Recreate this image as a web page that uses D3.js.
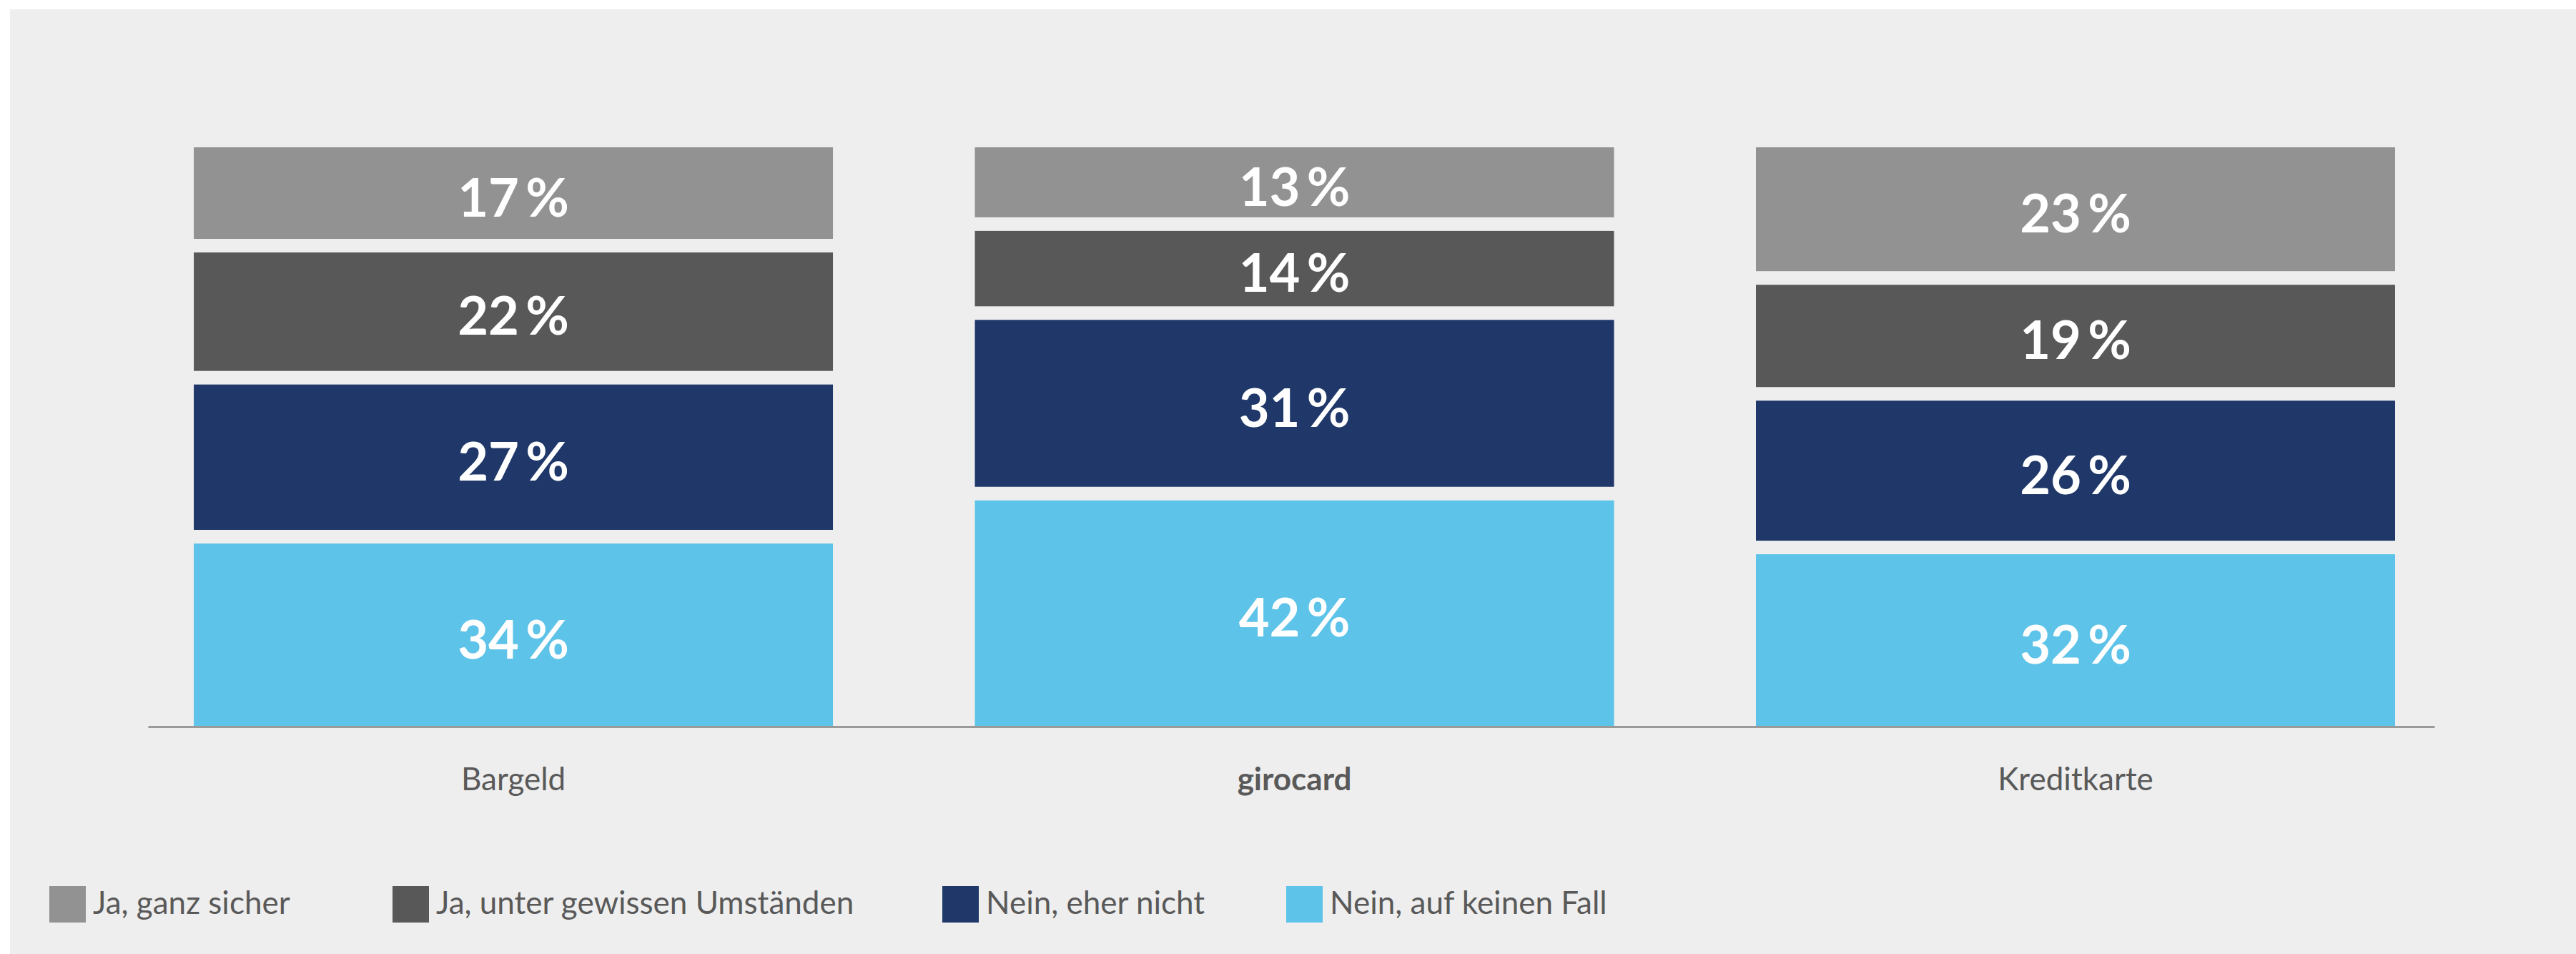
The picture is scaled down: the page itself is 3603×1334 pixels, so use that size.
<!DOCTYPE html>
<html>
<head>
<meta charset="utf-8">
<script src="https://cdn.jsdelivr.net/npm/d3@7/dist/d3.min.js"></script>
<style>
  html, body { margin: 0; padding: 0; background: #ffffff; }
  svg { display: block; }
  text { font-family: Lato, "Open Sans", sans-serif; }
</style>
</head>
<body>
<svg id="chart" width="3603" height="1334"></svg>
<script>
// ---- data ----
const categories = ["Bargeld", "girocard", "Kreditkarte"];
const seriesNames = ["Nein, auf keinen Fall", "Nein, eher nicht", "Ja, unter gewissen Umständen", "Ja, ganz sicher"];
const neinAufKeinenFall = [34, 42, 32];
const neinEherNicht = [27, 31, 26];
const jaUnterUmstaenden = [22, 14, 19];
const jaGanzSicher = [17, 13, 23];
const legendOrder = ["Ja, ganz sicher", "Ja, unter gewissen Umständen", "Nein, eher nicht", "Nein, auf keinen Fall"];

// ---- styling ----
const colors = {
  "Ja, ganz sicher": "#929292",
  "Ja, unter gewissen Umständen": "#585858",
  "Nein, eher nicht": "#1f3869",
  "Nein, auf keinen Fall": "#5dc3e8"
};

const W = 3603, H = 1334;
const svg = d3.select("#chart");

svg.append("rect").attr("x", 14).attr("y", 13).attr("width", W - 14).attr("height", H - 13).attr("fill", "#eeeeee");

const seriesValues = [neinAufKeinenFall, neinEherNicht, jaUnterUmstaenden, jaGanzSicher];
const table = categories.map((c, i) => {
  const row = { category: c };
  seriesNames.forEach((s, j) => row[s] = seriesValues[j][i]);
  return row;
});
const stacked = d3.stack().keys(seriesNames)(table);

const baseY = 1016;
const gap = 19;
const x = d3.scaleBand().domain(categories).range([207, 3405])
  .paddingInner(0.1817).paddingOuter(0.0545).align(0.538);
const y = d3.scaleLinear().domain([0, 100]).range([baseY, baseY - 753]);

const layers = svg.append("g").selectAll("g").data(stacked).join("g")
  .attr("fill", d => colors[d.key]);

layers.selectAll("rect").data((d, i) => d.map(p => ({ p, i, key: d.key }))).join("rect")
  .attr("x", d => x(d.p.data.category))
  .attr("width", x.bandwidth())
  .attr("y", d => y(d.p[1]) - d.i * gap)
  .attr("height", d => y(d.p[0]) - y(d.p[1]));

layers.selectAll("text").data((d, i) => d.map(p => ({ p, i, key: d.key }))).join("text")
  .attr("x", d => x(d.p.data.category) + x.bandwidth() / 2)
  .attr("y", d => (y(d.p[0]) + y(d.p[1])) / 2 - d.i * gap)
  .attr("dy", "0.44em")
  .attr("text-anchor", "middle")
  .attr("fill", "#ffffff")
  .attr("font-size", 74)
  .attr("font-weight", 700)
  .text(d => `${d.p[1] - d.p[0]}\u2009%`);

// axis
const axis = svg.append("g").attr("transform", `translate(0,${baseY})`)
  .call(d3.axisBottom(x).tickSize(0).tickPadding(58));
axis.select(".domain").attr("stroke", "#9a9a9a").attr("stroke-width", 3);
axis.selectAll(".tick text")
  .attr("font-family", "Lato, sans-serif")
  .attr("font-size", 44)
  .attr("fill", "#595959")
  .attr("font-weight", d => d === "girocard" ? 700 : 400);

// legend
const legendX = [69, 549, 1318, 1799];
const legend = svg.append("g").selectAll("g").data(legendOrder).join("g")
  .attr("transform", (d, i) => `translate(${legendX[i]},1239)`);
legend.append("rect").attr("width", 51).attr("height", 51).attr("fill", d => colors[d]);
legend.append("text").attr("x", 61).attr("y", 39)
  .attr("font-size", 44).attr("fill", "#595959")
  .text(d => d);
</script>
</body>
</html>
